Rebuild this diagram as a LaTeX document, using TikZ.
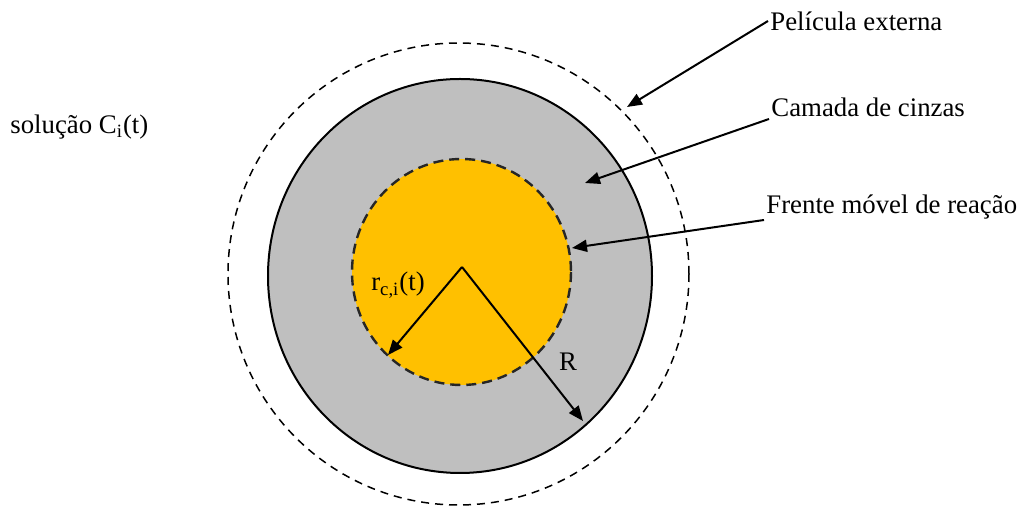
\documentclass[tikz,border=0pt]{standalone}
\usepackage{fontspec}
\setmainfont{Liberation Serif}
\usepackage{tikz}
\usetikzlibrary{arrows.meta, positioning}
\definecolor{ashgray}{RGB}{191,191,191}
\definecolor{coreorange}{RGB}{255,192,0}
\definecolor{frontgray}{RGB}{38,38,38}
\tikzset{
  lbl/.style={font=\fontsize{13.4}{16}\selectfont, inner sep=1pt},
  arrow/.style={-{Triangle[length=7.5pt, width=6pt]}, line width=1pt, black},
  filmline/.style={dash pattern=on 4pt off 3pt, line width=0.75pt},
  frontline/.style={dash pattern=on 5pt off 3pt, line width=1.2pt, draw=frontgray},
}

\begin{document}
\begin{tikzpicture}[x=0.5pt, y=-0.5pt]
  \useasboundingbox (0,0) rectangle (1019,506);
  % particle layers
  \draw[filmline] (458.5,274) ellipse [x radius=230.5, y radius=231];
  \draw[fill=ashgray, line width=1pt] (460,276) ellipse [x radius=192, y radius=197];
  \draw[frontline, fill=coreorange] (461.5,272) ellipse [x radius=109.5, y radius=113];
  % points
  \coordinate (ctr) at (462,267);
  \coordinate (rtip) at (388,355);
  \coordinate (Rtip) at (583,421);
  \coordinate (filmtip) at (627,107);
  \coordinate (ashtip) at (585,183);
  \coordinate (fronttip) at (572,248);
  % labels
  \node[lbl, anchor=west] (sol) at (8,127) {solução C\textsubscript{i}(t)};
  \node[lbl, anchor=west] (film) at (768,21) {Película externa};
  \node[lbl, anchor=west] (ash) at (769,107) {Camada de cinzas};
  \node[lbl, anchor=west] (front) at (764,207) {Frente móvel de reação};
  \node[lbl] (rlbl) at (398,285) {r\textsubscript{c,i}(t)};
  \node[lbl] (Rlbl) at (568,362) {R};
  % arrows
  \draw[arrow] (film.west) -- (filmtip);
  \draw[arrow] (ash.west) ++(0,12) -- (ashtip);
  \draw[arrow] (front.west) ++(0,13) -- (fronttip);
  \draw[arrow] (ctr) -- (rtip);
  \draw[arrow] (ctr) -- (Rtip);
\end{tikzpicture}
\end{document}
